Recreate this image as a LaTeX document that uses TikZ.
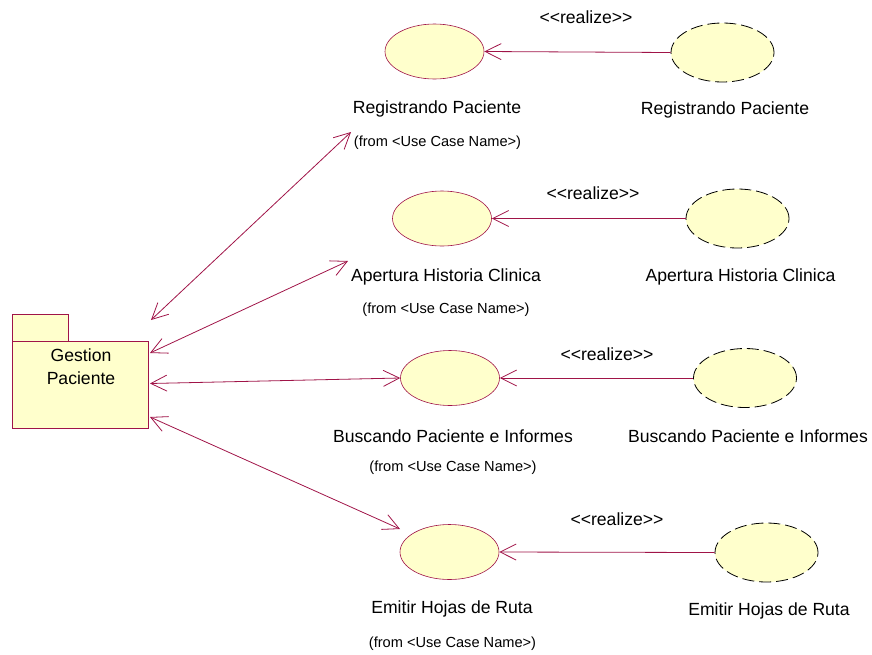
\documentclass[tikz,border=0pt]{standalone}
\usepackage{fontspec}
\setmainfont{Liberation Sans}[Ligatures=TeXOff]
\usetikzlibrary{arrows.meta,shapes.geometric}
\definecolor{crim}{RGB}{160,20,72}
\definecolor{ucfill}{RGB}{255,255,204}
\begin{document}
\begin{tikzpicture}[x=1pt,y=-1pt,
  lbl/.style={inner sep=0pt,font=\fontsize{17.6}{23}\selectfont},
  fromlbl/.style={inner sep=0pt,font=\fontsize{14.6}{17}\selectfont},
  usecase/.style={ellipse,draw=crim,line width=0.6pt,fill=ucfill,minimum width=99pt,minimum height=55pt,inner sep=0pt},
  realcase/.style={ellipse,draw=black,line width=0.8pt,dash pattern=on 12pt off 5pt,fill=ucfill,minimum width=103pt,minimum height=59pt,inner sep=0pt},
  pkgbox/.style={draw=crim,line width=0.8pt,fill=ucfill,inner sep=0pt},
  assoc/.style={draw=crim,line width=0.8pt,{Straight Barb[length=16pt,width=16pt]}-{Straight Barb[length=16pt,width=16pt]}},
  realize/.style={draw=crim,line width=0.8pt,-{Straight Barb[length=16pt,width=16pt]}}]
\useasboundingbox (0,0) rectangle (872,654);

% package Gestion Paciente
\node[pkgbox,minimum width=56pt,minimum height=27pt] (tab) at (40,327.5) {};
\node[pkgbox,minimum width=136pt,minimum height=87pt] (pkg) at (80,384.5) {};
\node[lbl,align=center] (pkgtext) at (81,367) {Gestion\\Paciente};

% use cases
\node[usecase] (uc1) at (434.5,51.5) {};
\node[usecase] (uc2) at (442,218.5) {};
\node[usecase] (uc3) at (450,378) {};
\node[usecase] (uc4) at (449.5,552) {};

\node[lbl] (uc1name) at (437,108.5) {Registrando Paciente};
\node[fromlbl] (uc1from) at (437.5,143) {(from <Use Case Name>)};
\node[lbl] (uc2name) at (446,276.5) {Apertura Historia Clinica};
\node[fromlbl] (uc2from) at (446,310) {(from <Use Case Name>)};
\node[lbl] (uc3name) at (453,436.5) {Buscando Paciente e Informes};
\node[fromlbl] (uc3from) at (453,467.5) {(from <Use Case Name>)};
\node[lbl] (uc4name) at (452,609) {Emitir Hojas de Ruta};
\node[fromlbl] (uc4from) at (452.5,644) {(from <Use Case Name>)};

% realizations
\node[realcase] (rc1) at (722.5,52.5) {};
\node[realcase] (rc2) at (737.5,218.5) {};
\node[realcase] (rc3) at (745,378) {};
\node[realcase] (rc4) at (766.5,552.5) {};

\node[lbl] (rc1name) at (725,110) {Registrando Paciente};
\node[lbl] (rc2name) at (740.5,276.5) {Apertura Historia Clinica};
\node[lbl] (rc3name) at (748,436.5) {Buscando Paciente e Informes};
\node[lbl] (rc4name) at (769,610.5) {Emitir Hojas de Ruta};

\node[lbl] (re1) at (586,17) {<<realize>>};
\node[lbl] (re2) at (593,193) {<<realize>>};
\node[lbl] (re3) at (607,354) {<<realize>>};
\node[lbl] (re4) at (617,519) {<<realize>>};

\draw[realize] (rc1.west) -- (uc1.east);
\draw[realize] (rc2.west) -- (uc2.east);
\draw[realize] (rc3.west) -- (uc3.east);
\draw[realize] (rc4.west) -- (uc4.east);

% associations from the package
\coordinate (p1) at (151,320);
\coordinate (p2) at (150,353);
\coordinate (p3) at (150,383.5);
\coordinate (p4) at (150,417);
\coordinate (e1) at (351,132);
\coordinate (e2) at (348,261);
\coordinate (e4) at (400,529);

\draw[assoc] (p1) -- (e1);
\draw[assoc] (p2) -- (e2);
\draw[assoc] (p3) -- (uc3.west);
\draw[assoc] (p4) -- (e4);
\end{tikzpicture}
\end{document}
